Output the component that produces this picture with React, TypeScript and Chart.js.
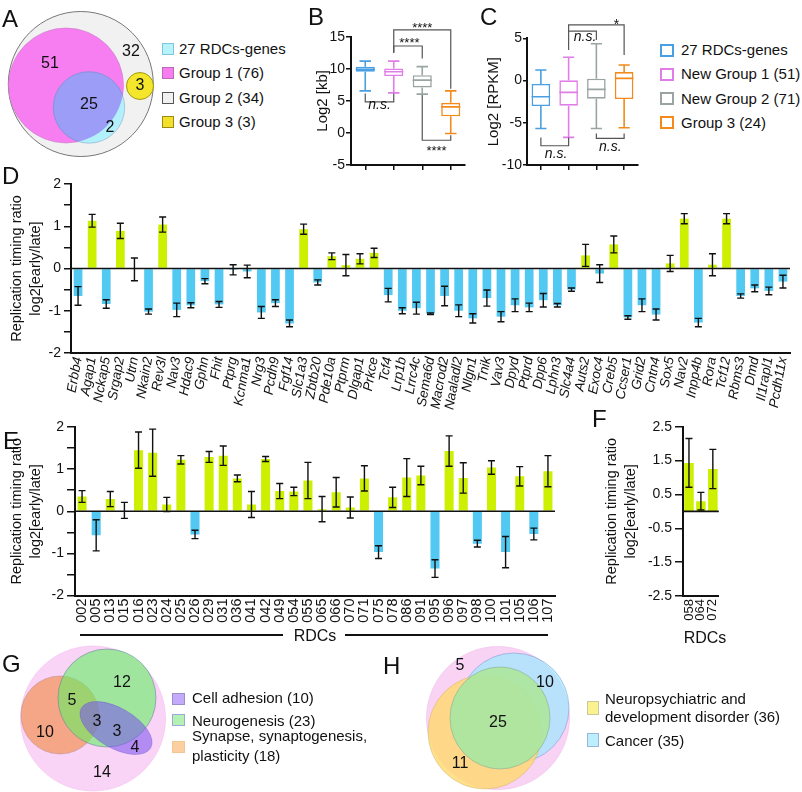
import React, { useEffect, useRef } from 'react';
import { Chart, registerables } from 'chart.js';

Chart.register(...registerables);

const FONT = '"Liberation Sans", Arial, Helvetica, sans-serif';
Chart.defaults.font.family = FONT;
Chart.defaults.color = '#111';

// ---------------- DATA ----------------
// Panel B (box plots, Log2 [kb])
const bGroups = ['27 RDCs-genes', 'Group 1', 'Group 2', 'Group 3'];
const bMin = [6.55, 6.25, 6.05, -0.1];
const bQ1 = [9.55, 8.86, 7.09, 2.6];
const bMed = [9.9, 9.53, 8.23, 4.06];
const bQ3 = [10.3, 10.06, 9.0, 4.69];
const bMax = [11.2, 11.2, 10.33, 6.56];

// Panel C (box plots, Log2 [RPKM])
const cGroups = ['27 RDCs-genes', 'New Group 1 (51)', 'New Group 2 (71)', 'Group 3 (24)'];
const cMin = [-5.67, -6.73, -5.67, -5.59];
const cQ1 = [-3.02, -2.98, -2.15, -2.19];
const cMed = [-1.92, -1.4, -1.05, 0.26];
const cQ3 = [-0.41, 0.02, 0.21, 1.0];
const cMax = [1.24, 2.75, 4.36, 1.84];

// Panel D
const dGenes = ['Erbb4', 'Agap1', 'Nckap5', 'Srgap2', 'Utrn', 'Nkain2', 'Rev3l', 'Nav3', 'Hdac9', 'Gphn', 'Fhit', 'Ptprg', 'Kcnma1', 'Nrg3', 'Pcdh9', 'Fgf14', 'Slc1a3', 'Zbtb20', 'Pde10a', 'Ptprm', 'Dlgap1', 'Prkce', 'Tcf4', 'Lrp1b', 'Lrrc4c', 'Sema6d', 'Macrod2', 'Naaladl2', 'Nlgn1', 'Tnik', 'Vav3', 'Dpyd', 'Ptprd', 'Dpp6', 'Lphn3', 'Slc4a4', 'Auts2', 'Exoc4', 'Creb5', 'Ccser1', 'Grid2', 'Cntn4', 'Sox5', 'Nav2', 'Inpp4b', 'Rora', 'Tcf12', 'Rbms3', 'Dmd', 'Il1rapl1', 'Pcdh11x'];
const dValues = [-0.65, 1.13, -0.84, 0.89, -0.02, -1.02, 1.04, -0.98, -0.87, -0.3, -0.85, -0.03, -0.07, -1.04, -0.82, -1.3, 0.93, -0.33, 0.29, 0.08, 0.23, 0.37, -0.63, -1.0, -0.94, -1.07, -0.65, -1.0, -1.18, -0.7, -1.14, -0.87, -0.92, -0.75, -0.87, -0.5, 0.31, -0.12, 0.57, -1.16, -0.87, -1.09, 0.12, 1.18, -1.28, 0.09, 1.18, -0.65, -0.47, -0.53, -0.31];
const dErrors = [0.22, 0.15, 0.1, 0.18, 0.27, 0.06, 0.18, 0.16, 0.06, 0.06, 0.07, 0.12, 0.15, 0.14, 0.08, 0.08, 0.12, 0.06, 0.08, 0.25, 0.12, 0.11, 0.16, 0.07, 0.14, 0.02, 0.23, 0.14, 0.11, 0.19, 0.12, 0.15, 0.1, 0.16, 0.04, 0.04, 0.26, 0.21, 0.2, 0.04, 0.15, 0.13, 0.19, 0.12, 0.1, 0.26, 0.12, 0.05, 0.08, 0.09, 0.15];

// Panel E
const eRdcs = ['002', '005', '013', '015', '016', '023', '024', '025', '026', '029', '031', '036', '041', '042', '049', '054', '055', '065', '066', '070', '071', '075', '078', '086', '091', '095', '096', '097', '098', '100', '101', '105', '106', '107'];
const eValues = [0.35, -0.57, 0.29, 0.02, 1.45, 1.39, 0.16, 1.22, -0.55, 1.29, 1.32, 0.78, 0.16, 1.24, 0.48, 0.47, 0.73, 0.05, 0.45, 0.09, 0.78, -0.97, 0.33, 0.8, 0.85, -1.36, 1.43, 0.79, -0.77, 1.04, -0.97, 0.83, -0.54, 0.95];
const eErrors = [0.14, 0.37, 0.18, 0.19, 0.43, 0.56, 0.17, 0.1, 0.1, 0.13, 0.23, 0.08, 0.31, 0.06, 0.18, 0.1, 0.43, 0.3, 0.35, 0.25, 0.3, 0.15, 0.24, 0.45, 0.22, 0.21, 0.36, 0.36, 0.08, 0.16, 0.37, 0.23, 0.14, 0.37];

// Panel F
const fRdcs = ['058', '064', '072'];
const fValues = [1.43, 0.3, 1.25];
const fErrors = [0.72, 0.26, 0.58];

// Venn counts
const aCounts = ['51', '32', '3', '25', '2'];
const gCounts = ['12', '5', '3', '3', '4', '10', '14'];
const hCounts = ['5', '10', '25', '11'];

// Legend labels
const aLegend = ['27 RDCs-genes', 'Group 1 (76)', 'Group 2 (34)', 'Group 3 (3)'];
const gLegend = ['Cell adhesion (10)', 'Neurogenesis (23)', 'Synapse, synaptogenesis,', 'plasticity (18)'];
const hLegend = ['Neuropsychiatric and', 'development disorder (36)', 'Cancer (35)'];

// ---------------- STYLES ----------------
const GREEN = '#ccf000';
const BLUE = '#52c9f2';
const BOX_COLORS = ['#4a9fe2', '#e07de6', '#9aa5a3', '#f28a1c'];
const INK = '#111';

// ---------------- PLUGINS ----------------
function errorPlugin(errors: number[]) {
  return {
    id: 'errbars',
    afterDatasetsDraw(chart: any) {
      const { ctx, chartArea, scales } = chart;
      const y = scales.y;
      const meta = chart.getDatasetMeta(0);
      const vals = chart.data.datasets[0].data as number[];
      ctx.save();
      ctx.strokeStyle = INK;
      ctx.lineWidth = 1.6;
      const y0 = y.getPixelForValue(0);
      ctx.beginPath();
      ctx.moveTo(chartArea.left, y0);
      ctx.lineTo(chartArea.right, y0);
      ctx.stroke();
      ctx.lineWidth = 1.4;
      meta.data.forEach((el: any, i: number) => {
        const x = el.x;
        const yt = y.getPixelForValue(vals[i] + errors[i]);
        const yb = y.getPixelForValue(vals[i] - errors[i]);
        const c = 3.5;
        ctx.beginPath();
        ctx.moveTo(x, yt); ctx.lineTo(x, yb);
        ctx.moveTo(x - c, yt); ctx.lineTo(x + c, yt);
        ctx.moveTo(x - c, yb); ctx.lineTo(x + c, yb);
        ctx.stroke();
      });
      ctx.restore();
    },
  };
}

function boxPlugin(mins: number[], meds: number[], maxs: number[], colors: string[]) {
  return {
    id: 'boxes',
    afterDatasetsDraw(chart: any) {
      const { ctx, scales } = chart;
      const y = scales.y;
      const meta = chart.getDatasetMeta(0);
      const data = chart.data.datasets[0].data as number[][];
      ctx.save();
      ctx.lineWidth = 1.6;
      meta.data.forEach((el: any, i: number) => {
        const x = el.x;
        const w = el.width;
        const [q1, q3] = data[i];
        ctx.strokeStyle = colors[i];
        const ym = y.getPixelForValue(meds[i]);
        const y3 = y.getPixelForValue(q3);
        const y1 = y.getPixelForValue(q1);
        const yMax = y.getPixelForValue(maxs[i]);
        const yMin = y.getPixelForValue(mins[i]);
        ctx.beginPath();
        ctx.moveTo(x - w / 2, ym); ctx.lineTo(x + w / 2, ym);
        ctx.moveTo(x, y3); ctx.lineTo(x, yMax);
        ctx.moveTo(x - w * 0.3, yMax); ctx.lineTo(x + w * 0.3, yMax);
        ctx.moveTo(x, y1); ctx.lineTo(x, yMin);
        ctx.moveTo(x - w * 0.3, yMin); ctx.lineTo(x + w * 0.3, yMin);
        ctx.stroke();
      });
      ctx.restore();
    },
  };
}

type Bracket = { x1: number; x2: number; y: number; y1: number; y2: number };
type Mark = { x: number; y: number; text: string; italic?: boolean; size?: number };

function bracketPlugin(brackets: Bracket[], marks: Mark[]) {
  return {
    id: 'brackets',
    afterDraw(chart: any) {
      const { ctx, scales } = chart;
      const { x, y } = scales;
      ctx.save();
      ctx.strokeStyle = '#555';
      ctx.lineWidth = 1.2;
      brackets.forEach((b) => {
        ctx.beginPath();
        ctx.moveTo(x.getPixelForValue(b.x1), y.getPixelForValue(b.y1));
        ctx.lineTo(x.getPixelForValue(b.x1), y.getPixelForValue(b.y));
        ctx.lineTo(x.getPixelForValue(b.x2), y.getPixelForValue(b.y));
        ctx.lineTo(x.getPixelForValue(b.x2), y.getPixelForValue(b.y2));
        ctx.stroke();
      });
      ctx.fillStyle = INK;
      ctx.textAlign = 'center';
      ctx.textBaseline = 'middle';
      marks.forEach((m) => {
        ctx.font = `${m.italic ? 'italic ' : ''}${m.size ?? 14}px ${FONT}`;
        ctx.fillText(m.text, x.getPixelForValue(m.x), y.getPixelForValue(m.y));
      });
      ctx.restore();
    },
  };
}

type Shape = { cx: number; cy: number; rx: number; ry?: number; rot?: number; fill: string; stroke?: string; lw?: number; clip?: number };
type Num = { x: number; y: number; t: string };

function vennPlugin(shapes: Shape[], nums: Num[]) {
  return {
    id: 'venn',
    afterDraw(chart: any) {
      const { ctx, scales } = chart;
      const { x, y } = scales;
      const path = (s: Shape) => {
        const px = x.getPixelForValue(s.cx);
        const py = y.getPixelForValue(s.cy);
        const rx = Math.abs(x.getPixelForValue(s.cx + s.rx) - px);
        const ry = Math.abs(y.getPixelForValue(s.cy + (s.ry ?? s.rx)) - py);
        ctx.beginPath();
        ctx.ellipse(px, py, rx, ry, ((s.rot || 0) * Math.PI) / 180, 0, Math.PI * 2);
      };
      shapes.forEach((s) => {
        ctx.save();
        if (s.clip !== undefined) {
          path(shapes[s.clip]);
          ctx.clip();
        }
        path(s);
        ctx.fillStyle = s.fill;
        ctx.fill();
        if (s.stroke) {
          ctx.strokeStyle = s.stroke;
          ctx.lineWidth = s.lw ?? 1;
          ctx.stroke();
        }
        ctx.restore();
      });
      ctx.save();
      ctx.fillStyle = INK;
      ctx.font = `16px ${FONT}`;
      ctx.textAlign = 'center';
      ctx.textBaseline = 'middle';
      nums.forEach((n) => ctx.fillText(n.t, x.getPixelForValue(n.x), y.getPixelForValue(n.y)));
      ctx.restore();
    },
  };
}

// ---------------- CONFIG BUILDERS ----------------
const base = {
  responsive: false,
  animation: false as const,
  events: [] as any[],
  plugins: { legend: { display: false }, tooltip: { enabled: false } },
};

function barChart(opts: {
  labels: string[]; values: number[]; errors: number[]; min: number; max: number; step: number;
  yFmt: (v: number) => string; yWidth: number; xHeight: number; pad: any; italic: boolean; rot: number;
  xFont: number; barPct: number; tickLen: number;
}) {
  return {
    type: 'bar',
    data: {
      labels: opts.labels,
      datasets: [{
        data: opts.values,
        backgroundColor: opts.values.map((v) => (v >= 0 ? GREEN : BLUE)),
        borderWidth: 0,
        barPercentage: opts.barPct,
        categoryPercentage: 1,
      }],
    },
    options: {
      ...base,
      layout: { padding: opts.pad },
      scales: {
        x: {
          grid: { display: false, drawTicks: false },
          border: { color: INK, width: 2 },
          ticks: {
            autoSkip: false, minRotation: opts.rot, maxRotation: opts.rot, padding: 3, color: INK,
            font: { size: opts.xFont, style: opts.italic ? 'italic' : 'normal', lineHeight: 1 },
          },
          afterFit: (s: any) => { s.height = opts.xHeight; },
        },
        y: {
          min: opts.min, max: opts.max,
          ticks: { stepSize: opts.step, callback: (v: any) => opts.yFmt(Number(v)), font: { size: 14 }, color: INK, padding: 3 },
          grid: { drawOnChartArea: false, color: INK, tickLength: opts.tickLen, lineWidth: 1.5 },
          border: { color: INK, width: 2 },
          title: {
            display: true, text: ['Replication timing ratio', 'log2[early/late]'], color: INK,
            font: { size: 14.5, lineHeight: 1.3 }, padding: { top: 8, bottom: 0 },
          },
          afterFit: (s: any) => { s.width = opts.yWidth; },
        },
      },
    },
    plugins: [errorPlugin(opts.errors)],
  };
}

function boxChart(opts: {
  q1: number[]; q3: number[]; min: number[]; med: number[]; max: number[]; labels: string[];
  yMin: number; yMax: number; title: string; padTop: number; brackets: Bracket[]; marks: Mark[]; tickLen: number; yWidth?: number;
}) {
  return {
    type: 'bar',
    data: {
      labels: opts.labels,
      datasets: [{
        data: opts.q1.map((q, i) => [q, opts.q3[i]]),
        backgroundColor: '#fff',
        borderColor: BOX_COLORS,
        borderWidth: 1.6,
        borderSkipped: false,
        barPercentage: 0.67,
        categoryPercentage: 1,
      }],
    },
    options: {
      ...base,
      layout: { padding: { top: opts.padTop, right: 5, left: 0, bottom: 0 } },
      scales: {
        x: {
          grid: { display: true, drawOnChartArea: false, offset: false, color: INK, tickLength: 5, lineWidth: 1.5 },
          border: { color: INK, width: 2 },
          ticks: { display: false },
          afterFit: (s: any) => { s.height = 15; },
        },
        y: {
          min: opts.yMin, max: opts.yMax,
          ticks: { stepSize: 5, font: { size: 14 }, color: INK, padding: 1 },
          grid: { drawOnChartArea: false, color: INK, tickLength: opts.tickLen, lineWidth: 1.5 },
          border: { color: INK, width: 2 },
          title: { display: true, text: opts.title, color: INK, font: { size: 15, lineHeight: 1.2 }, padding: { top: 9, bottom: 0 } },
          afterFit: (s: any) => { s.width = opts.yWidth ?? 46; },
        },
      },
    },
    plugins: [boxPlugin(opts.min, opts.med, opts.max, BOX_COLORS), bracketPlugin(opts.brackets, opts.marks)],
  };
}

function vennChart(w: number, h: number, shapes: Shape[], nums: Num[]) {
  return {
    type: 'scatter',
    data: { datasets: [{ data: [] }] },
    options: {
      ...base,
      layout: { padding: 0 },
      scales: {
        x: { type: 'linear', min: 0, max: w, display: false },
        y: { type: 'linear', min: 0, max: h, reverse: true, display: false },
      },
    },
    plugins: [vennPlugin(shapes, nums)],
  };
}

// ---------------- COMPONENTS ----------------
function ChartCanvas({ left, top, width, height, make }: { left: number; top: number; width: number; height: number; make: () => any }) {
  const ref = useRef<HTMLCanvasElement>(null);
  useEffect(() => {
    const chart = new Chart(ref.current as HTMLCanvasElement, make());
    return () => chart.destroy();
  }, []);
  return <canvas ref={ref} width={width} height={height} style={{ position: 'absolute', left, top, width, height }} />;
}

function Txt({ x, cy, children, size = 15, center = false }: { x: number; cy: number; children: any; size?: number; center?: boolean }) {
  const lh = Math.round(size * 1.2);
  return (
    <div style={{
      position: 'absolute', left: center ? x - 100 : x, top: cy - lh / 2, width: center ? 200 : undefined,
      textAlign: center ? 'center' : 'left', fontSize: size, lineHeight: `${lh}px`, whiteSpace: 'nowrap',
    }}>{children}</div>
  );
}

function Box({ x, y, w, h, fill, border, bw = 1 }: { x: number; y: number; w: number; h: number; fill: string; border: string; bw?: number }) {
  return <div style={{ position: 'absolute', left: x, top: y, width: w, height: h, background: fill, border: `${bw}px solid ${border}`, boxSizing: 'border-box' }} />;
}

function Letter({ x, y, t }: { x: number; y: number; t: string }) {
  return <div style={{ position: 'absolute', left: x, top: y - 3, fontSize: 24, lineHeight: '24px' }}>{t}</div>;
}

// Bracket annotations
const bBrackets: Bracket[] = [
  { x1: 1, x2: 3, y: 16.05, y1: 12.5, y2: 6.9 },
  { x1: 1, x2: 2, y: 13.55, y1: 12.5, y2: 11.6 },
  { x1: 2, x2: 3, y: -1.14, y1: 5.9, y2: -0.36 },
  { x1: 0, x2: 1, y: 4.85, y1: 6.15, y2: 6.15 },
];
const bMarks: Mark[] = [
  { x: 2, y: 16.36, text: '****', size: 13 },
  { x: 1.55, y: 13.9, text: '****', size: 13 },
  { x: 2.5, y: -2.86, text: '****', size: 13 },
  { x: 0.5, y: 4.33, text: 'n.s.', italic: true },
];
const cBrackets: Bracket[] = [
  { x1: 1, x2: 3, y: 6.58, y1: 3.61, y2: 3.02 },
  { x1: 1, x2: 2, y: 5.86, y1: 5.86, y2: 4.8 },
  { x1: 0, x2: 1, y: -7.72, y1: -6.73, y2: -6.73 },
  { x1: 2, x2: 3, y: -6.85, y1: -6.26, y2: -6.26 },
];
const cMarks: Mark[] = [
  { x: 2.72, y: 6.61, text: '*', size: 14 },
  { x: 1.59, y: 5.19, text: 'n.s.', italic: true },
  { x: 0.55, y: -8.71, text: 'n.s.', italic: true },
  { x: 2.5, y: -7.84, text: 'n.s.', italic: true },
];

export default function App() {
  const aShapes: Shape[] = [
    { cx: 80.8, cy: 84, rx: 72.5, fill: '#f1f1f1', stroke: '#777', lw: 1 },
    { cx: 66, cy: 85.5, rx: 57.5, fill: '#f67ef1', stroke: '#c87cc6', lw: 0.6 },
    { cx: 89, cy: 107.5, rx: 35.7, fill: '#b2f1fb', stroke: '#88aacc', lw: 0.6 },
    { cx: 89, cy: 107.5, rx: 35.7, fill: '#9c9df7', stroke: '#7f80d0', lw: 0.6, clip: 1 },
    { cx: 140, cy: 86, rx: 13.5, fill: '#f3e62b', stroke: '#a59a10', lw: 1 },
  ];
  const aNums: Num[] = [
    { x: 50, y: 64, t: aCounts[0] },
    { x: 131, y: 52, t: aCounts[1] },
    { x: 140, y: 86, t: aCounts[2] },
    { x: 89, y: 105, t: aCounts[3] },
    { x: 110, y: 128, t: aCounts[4] },
  ];
  const gShapes: Shape[] = [
    { cx: 93, cy: 78.5, rx: 72.5, fill: '#fad4f6', stroke: '#f2bdee', lw: 0.6 },
    { cx: 60, cy: 75, rx: 39, fill: 'rgba(242,135,60,0.6)', stroke: 'rgba(150,120,120,0.6)', lw: 0.6 },
    { cx: 107, cy: 58, rx: 49, fill: 'rgba(100,240,100,0.6)', stroke: 'rgba(100,110,170,0.7)', lw: 0.7 },
    { cx: 116, cy: 88, rx: 40, ry: 20, rot: 30, fill: 'rgba(120,80,240,0.55)', stroke: 'rgba(110,90,200,0.7)', lw: 0.6 },
  ];
  const gNums: Num[] = [
    { x: 122, y: 43, t: gCounts[0] },
    { x: 72, y: 61, t: gCounts[1] },
    { x: 97, y: 82, t: gCounts[2] },
    { x: 117, y: 92, t: gCounts[3] },
    { x: 135, y: 108, t: gCounts[4] },
    { x: 45, y: 93, t: gCounts[5] },
    { x: 102, y: 133, t: gCounts[6] },
  ];
  const hShapes: Shape[] = [
    { cx: 78, cy: 78, rx: 71.5, fill: '#f9d3f4', stroke: '#f0bdea', lw: 0.6 },
    { cx: 94, cy: 68, rx: 55, fill: 'rgba(140,235,255,0.6)', stroke: 'rgba(120,120,200,0.6)', lw: 0.7 },
    { cx: 65, cy: 92, rx: 57, fill: 'rgba(255,216,110,0.8)', stroke: 'rgba(200,170,110,0.7)', lw: 0.6 },
    { cx: 80, cy: 78, rx: 50, ry: 51, fill: 'rgba(172,230,160,0.95)', stroke: 'rgba(130,160,140,0.7)', lw: 0.7 },
  ];
  const hNums: Num[] = [
    { x: 40, y: 26, t: hCounts[0] },
    { x: 125, y: 43, t: hCounts[1] },
    { x: 78, y: 83, t: hCounts[2] },
    { x: 40, y: 124, t: hCounts[3] },
  ];

  const intFmt = (v: number) => (Math.abs(v - Math.round(v)) < 1e-9 ? String(Math.round(v)) : '');
  const halfFmt = (v: number) => (Math.abs(v) < 1e-9 ? '0' : v.toFixed(1));

  return (
    <div style={{ position: 'absolute', left: 0, top: 0, width: 802, height: 792, background: '#fff', overflow: 'hidden', fontFamily: FONT, color: INK }}>
      {/* Panel A */}
      <ChartCanvas left={0} top={0} width={160} height={165} make={() => vennChart(160, 165, aShapes, aNums)} />
      <Box x={162} y={43} w={12} h={12} fill="#b8f3fb" border="#7fc6dd" />
      <Box x={162} y={67} w={12} h={12} fill="#f77cf0" border="#b96bb5" />
      <Box x={162} y={92} w={12} h={12} fill="#f1f1f1" border="#555" />
      <Box x={162} y={116} w={12} h={12} fill="#f2e12c" border="#9a8a10" />
      <Txt x={179} cy={49}>{aLegend[0]}</Txt>
      <Txt x={179} cy={73}>{aLegend[1]}</Txt>
      <Txt x={179} cy={98}>{aLegend[2]}</Txt>
      <Txt x={179} cy={122}>{aLegend[3]}</Txt>

      {/* Panel B */}
      <ChartCanvas left={305} top={0} width={165} height={180} make={() => boxChart({
        q1: bQ1, q3: bQ3, min: bMin, med: bMed, max: bMax, labels: bGroups, yMin: -5, yMax: 15,
        title: 'Log2 [kb]', padTop: 36.7, brackets: bBrackets, marks: bMarks, tickLen: 5,
      })} />

      {/* Panel C */}
      <ChartCanvas left={476} top={0} width={167} height={180} make={() => boxChart({
        q1: cQ1, q3: cQ3, min: cMin, med: cMed, max: cMax, labels: cGroups, yMin: -10, yMax: 5,
        title: 'Log2 [RPKM]', padTop: 38.3, brackets: cBrackets, marks: cMarks, tickLen: 4, yWidth: 51,
      })} />
      {cGroups.map((g, i) => (
        <React.Fragment key={g}>
          <Box x={660} y={[44, 68, 92, 116][i]} w={14} h={13} fill="#fff" border={BOX_COLORS[i]} bw={2} />
          <Txt x={681} cy={[49.5, 74, 98.5, 122.5][i]}>{g}</Txt>
        </React.Fragment>
      ))}

      {/* Panel D */}
      <ChartCanvas left={0} top={170} width={800} height={250} make={() => barChart({
        labels: dGenes, values: dValues, errors: dErrors, min: -2, max: 2, step: 0.5, yFmt: intFmt,
        yWidth: 71, xHeight: 67, pad: { top: 14, right: 10, left: 0, bottom: 0 }, italic: true, rot: 80,
        xFont: 13.5, barPct: 0.62, tickLen: 7,
      })} />

      {/* Panel E */}
      <ChartCanvas left={0} top={415} width={570} height={211} make={() => barChart({
        labels: eRdcs, values: eValues, errors: eErrors, min: -2, max: 2, step: 0.5, yFmt: intFmt,
        yWidth: 75, xHeight: 30.5, pad: { top: 12, right: 15, left: 0, bottom: 0 }, italic: false, rot: 90,
        xFont: 14.5, barPct: 0.64, tickLen: 8,
      })} />
      <div style={{ position: 'absolute', left: 80, top: 634, width: 203, height: 1.5, background: INK }} />
      <div style={{ position: 'absolute', left: 345, top: 634, width: 203, height: 1.5, background: INK }} />
      <Txt x={315} cy={635} size={16} center>RDCs</Txt>

      {/* Panel F */}
      <ChartCanvas left={595} top={415} width={135} height={211} make={() => barChart({
        labels: fRdcs, values: fValues, errors: fErrors, min: -2.5, max: 2.5, step: 0.5, yFmt: halfFmt,
        yWidth: 88, xHeight: 30, pad: { top: 11.7, right: 7, left: 0, bottom: 0 }, italic: false, rot: 90,
        xFont: 13, barPct: 0.8, tickLen: 8,
      })} />
      <Txt x={705} cy={637} size={16} center>RDCs</Txt>

      {/* Panel G */}
      <ChartCanvas left={0} top={640} width={170} height={152} make={() => vennChart(170, 152, gShapes, gNums)} />
      <Box x={172} y={693} w={13} h={12} fill="#c4aafa" border="#9c8fd0" />
      <Box x={172} y={714} w={13} h={12} fill="#b5f1b5" border="#9aa9d6" />
      <Box x={172} y={741} w={13} h={12} fill="#fbcf9f" border="#f3c594" />
      <Txt x={192} cy={698}>{gLegend[0]}</Txt>
      <Txt x={192} cy={721}>{gLegend[1]}</Txt>
      <Txt x={192} cy={736}>{gLegend[2]}</Txt>
      <Txt x={192} cy={756}>{gLegend[3]}</Txt>

      {/* Panel H */}
      <ChartCanvas left={420} top={640} width={160} height={152} make={() => vennChart(160, 152, hShapes, hNums)} />
      <Box x={587} y={701} w={12} h={14} fill="#faf28e" border="#c9c9a0" />
      <Box x={587} y={733} w={12} h={14} fill="#bdeefc" border="#98b7e0" />
      <Txt x={605} cy={699}>{hLegend[0]}</Txt>
      <Txt x={605} cy={717}>{hLegend[1]}</Txt>
      <Txt x={605} cy={741}>{hLegend[2]}</Txt>

      {/* Panel letters */}
      <Letter x={2} y={10} t="A" />
      <Letter x={308} y={8} t="B" />
      <Letter x={480} y={8} t="C" />
      <Letter x={2} y={167} t="D" />
      <Letter x={3} y={432} t="E" />
      <Letter x={592} y={410} t="F" />
      <Letter x={2} y={655} t="G" />
      <Letter x={383} y={657} t="H" />
    </div>
  );
}
